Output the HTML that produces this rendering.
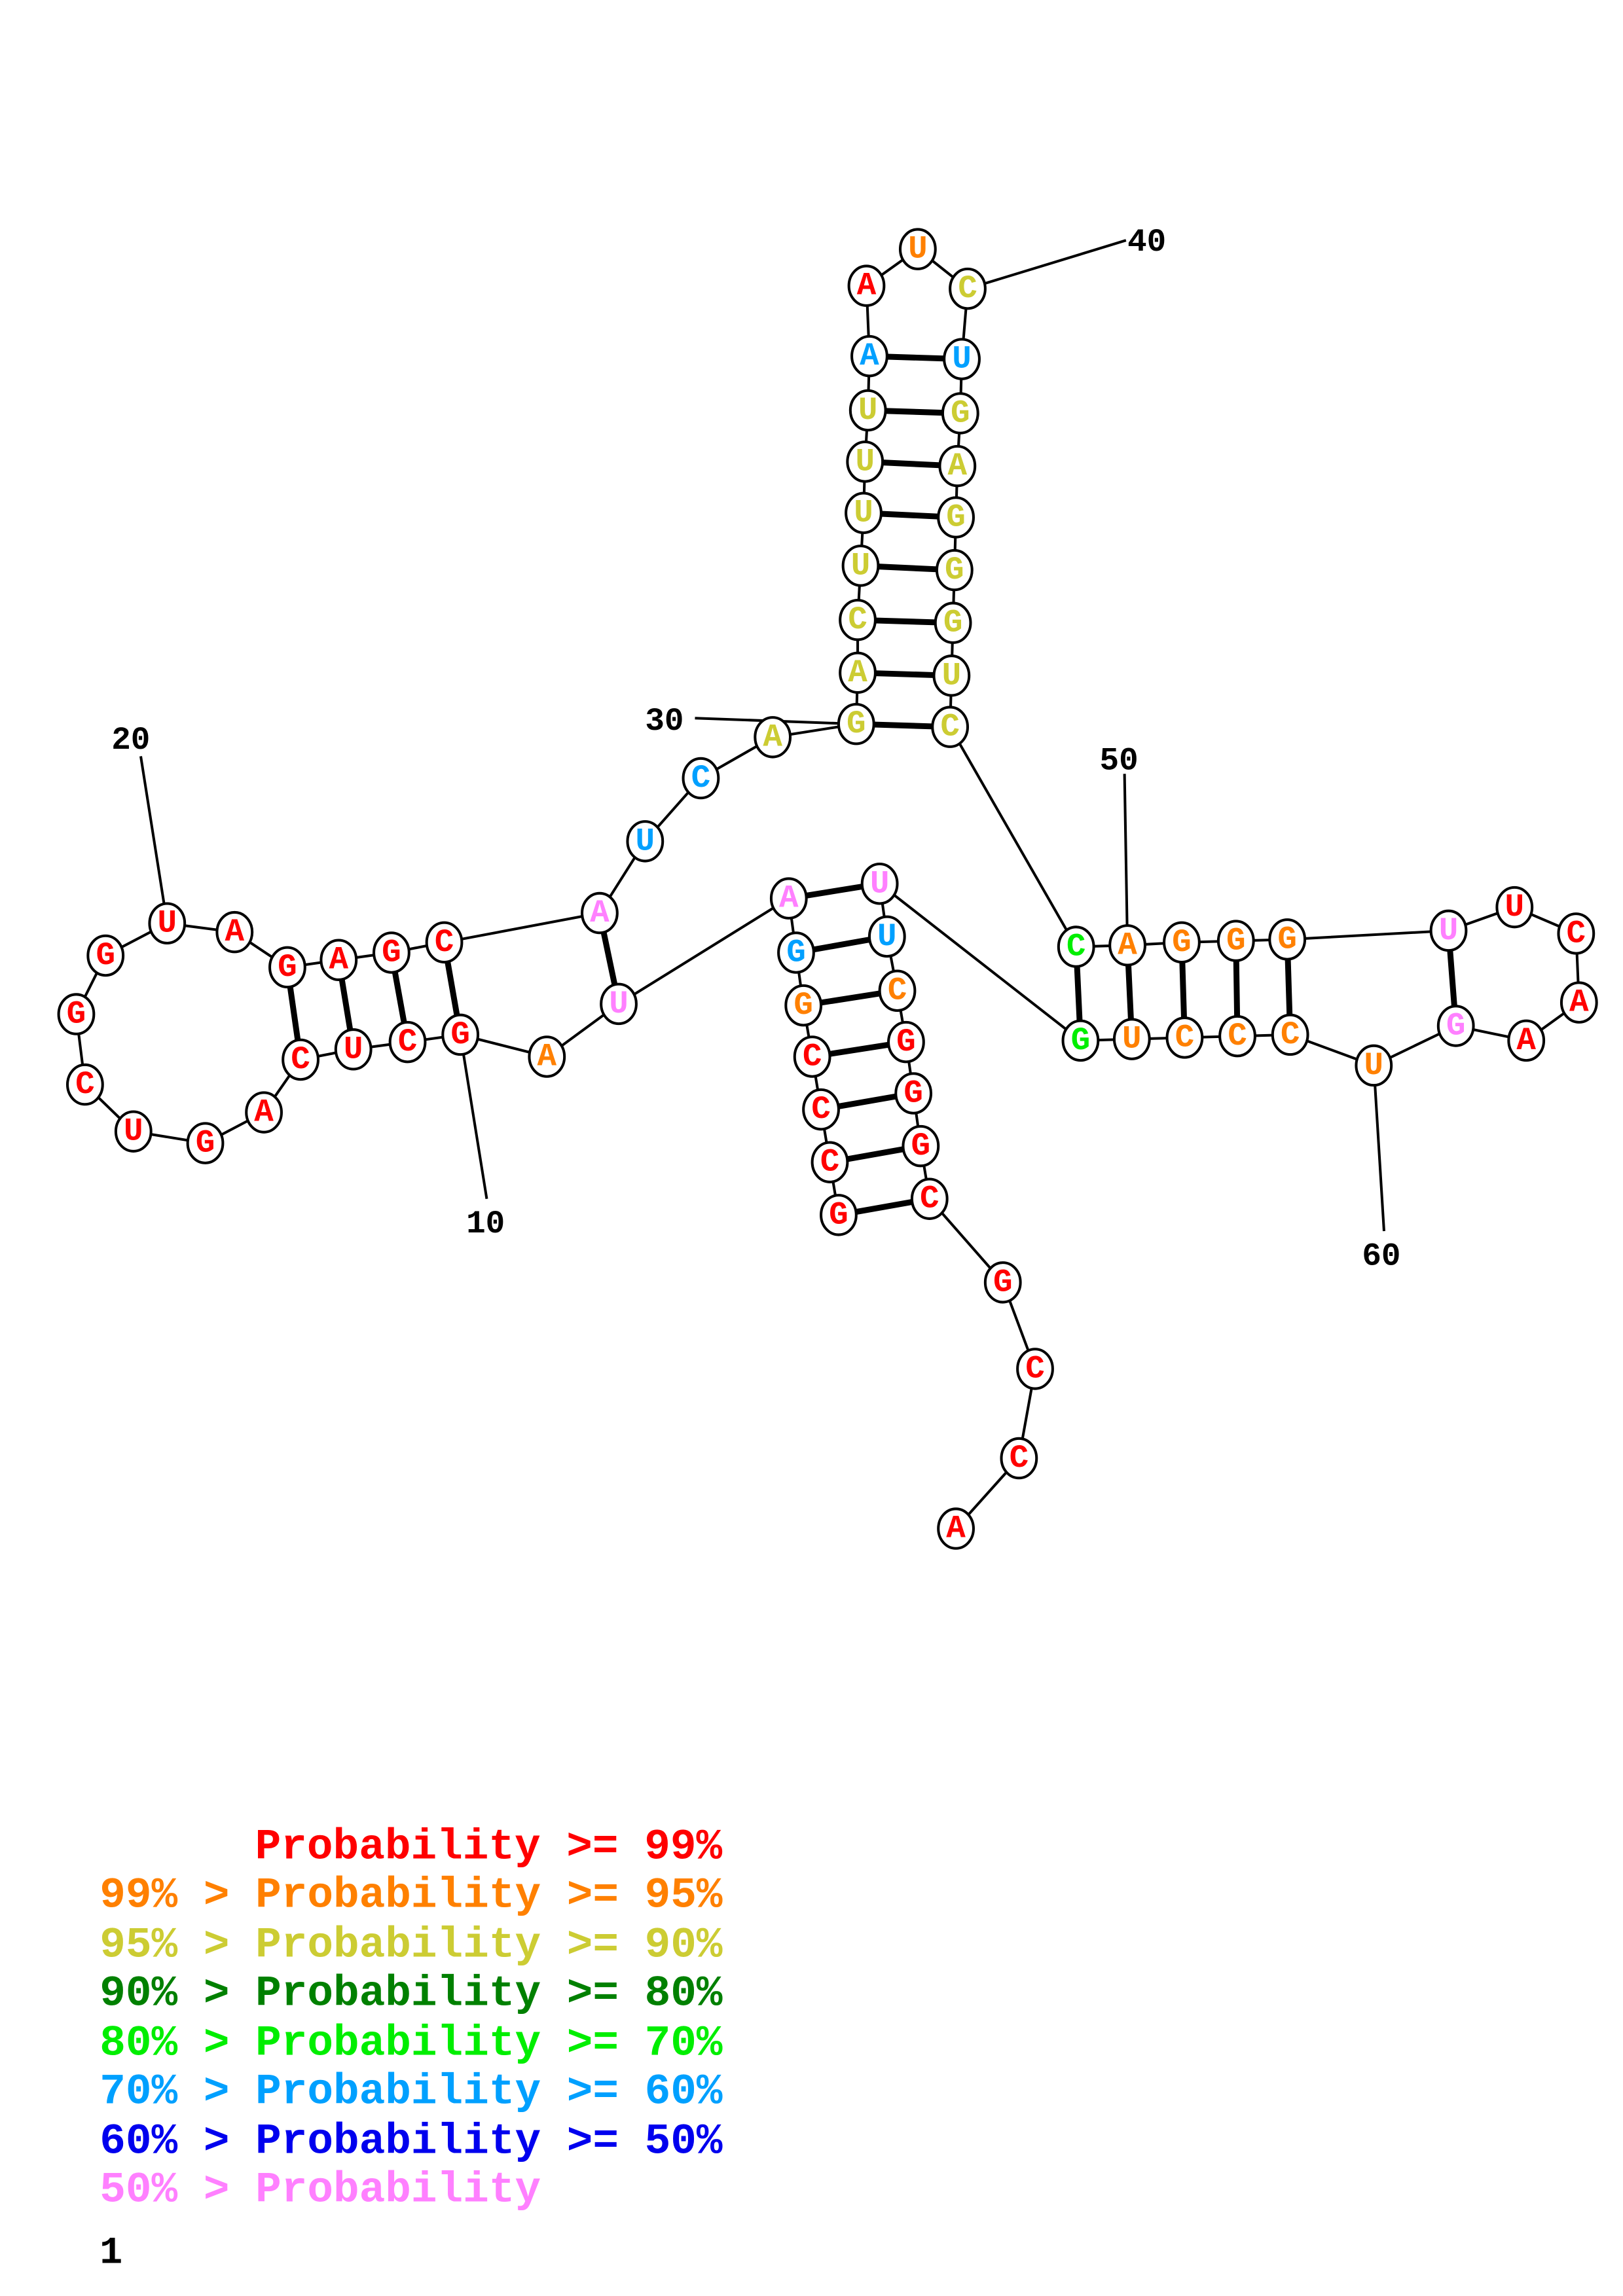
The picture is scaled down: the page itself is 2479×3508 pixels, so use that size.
<!DOCTYPE html>
<html><head><meta charset="utf-8"><style>
html,body{margin:0;padding:0;background:#fff}
svg{display:block}
.n text{font-family:"Liberation Mono",monospace;font-weight:bold;font-size:22px;text-anchor:middle;dominant-baseline:central}
.lab{font-family:"Liberation Mono",monospace;font-weight:bold;font-size:22px;fill:#000}
.leg{font-family:"Liberation Mono",monospace;font-weight:bold;font-size:29.5px}
</style></head><body>
<svg width="2479" height="3508" viewBox="0 0 1107 1566.6" preserveAspectRatio="none" xmlns="http://www.w3.org/2000/svg">
<g stroke="#000" stroke-width="1.8" fill="none">
<polyline points="572,829 566,793 560,757 554,721 548,686 543,650 538,613 422,685 373,721 314,706 278,711 241,716 205,723 180,759 140,780 91,772 58,740 52,692 72,652 114,630 160,636 196,660 231,655 267,650 303,643 409,623 440,574 478,531 527,503 584,494 585,459 585,423 587,386 589,350 590,315 592,280 593,243 591,195 626,170 660,197 656,245 655,282 653,318 652,353 651,389 650,425 649,461 648,496 734,646 769,645 806,643 843,642 878,641 988,635 1033,619 1075,637 1077,684 1041,710 993,700 937,727 880,706 844,707 808,708 772,709 737,710 600,603 605,639 612,676 618,711 623,746 628,782 634,818 684,875 706,934 695,995 652,1043"/>
<line x1="768" y1="164" x2="660" y2="197"/>
<line x1="474" y1="490" x2="584" y2="494"/>
<line x1="96" y1="516" x2="114" y2="630"/>
<line x1="332" y1="818" x2="314" y2="706"/>
<line x1="767" y1="528" x2="769" y2="645"/>
<line x1="944" y1="840" x2="937" y2="727"/>
</g>
<g stroke="#000" stroke-width="4">
<line x1="572" y1="829" x2="634" y2="818"/><line x1="566" y1="793" x2="628" y2="782"/><line x1="560" y1="757" x2="623" y2="746"/><line x1="554" y1="721" x2="618" y2="711"/><line x1="548" y1="686" x2="612" y2="676"/><line x1="543" y1="650" x2="605" y2="639"/><line x1="538" y1="613" x2="600" y2="603"/>
<line x1="422" y1="685" x2="409" y2="623"/><line x1="314" y1="706" x2="303" y2="643"/><line x1="278" y1="711" x2="267" y2="650"/><line x1="241" y1="716" x2="231" y2="655"/><line x1="205" y1="723" x2="196" y2="660"/>
<line x1="584" y1="494" x2="648" y2="496"/><line x1="585" y1="459" x2="649" y2="461"/><line x1="585" y1="423" x2="650" y2="425"/><line x1="587" y1="386" x2="651" y2="389"/><line x1="589" y1="350" x2="652" y2="353"/><line x1="590" y1="315" x2="653" y2="318"/><line x1="592" y1="280" x2="655" y2="282"/><line x1="593" y1="243" x2="656" y2="245"/>
<line x1="734" y1="646" x2="737" y2="710"/><line x1="769" y1="645" x2="772" y2="709"/><line x1="806" y1="643" x2="808" y2="708"/><line x1="843" y1="642" x2="844" y2="707"/><line x1="878" y1="641" x2="880" y2="706"/><line x1="988" y1="635" x2="993" y2="700"/>
</g>
<g class="n" stroke="#000" stroke-width="1.8">
<g transform="translate(572,829)"><ellipse rx="12" ry="13.5" fill="#fff"/><text fill="#f00" stroke="none">G</text></g>
<g transform="translate(566,793)"><ellipse rx="12" ry="13.5" fill="#fff"/><text fill="#f00" stroke="none">C</text></g>
<g transform="translate(560,757)"><ellipse rx="12" ry="13.5" fill="#fff"/><text fill="#f00" stroke="none">C</text></g>
<g transform="translate(554,721)"><ellipse rx="12" ry="13.5" fill="#fff"/><text fill="#f00" stroke="none">C</text></g>
<g transform="translate(548,686)"><ellipse rx="12" ry="13.5" fill="#fff"/><text fill="#ff8000" stroke="none">G</text></g>
<g transform="translate(543,650)"><ellipse rx="12" ry="13.5" fill="#fff"/><text fill="#00a0ff" stroke="none">G</text></g>
<g transform="translate(538,613)"><ellipse rx="12" ry="13.5" fill="#fff"/><text fill="#ff80ff" stroke="none">A</text></g>
<g transform="translate(422,685)"><ellipse rx="12" ry="13.5" fill="#fff"/><text fill="#ff80ff" stroke="none">U</text></g>
<g transform="translate(373,721)"><ellipse rx="12" ry="13.5" fill="#fff"/><text fill="#ff8000" stroke="none">A</text></g>
<g transform="translate(314,706)"><ellipse rx="12" ry="13.5" fill="#fff"/><text fill="#f00" stroke="none">G</text></g>
<g transform="translate(278,711)"><ellipse rx="12" ry="13.5" fill="#fff"/><text fill="#f00" stroke="none">C</text></g>
<g transform="translate(241,716)"><ellipse rx="12" ry="13.5" fill="#fff"/><text fill="#f00" stroke="none">U</text></g>
<g transform="translate(205,723)"><ellipse rx="12" ry="13.5" fill="#fff"/><text fill="#f00" stroke="none">C</text></g>
<g transform="translate(180,759)"><ellipse rx="12" ry="13.5" fill="#fff"/><text fill="#f00" stroke="none">A</text></g>
<g transform="translate(140,780)"><ellipse rx="12" ry="13.5" fill="#fff"/><text fill="#f00" stroke="none">G</text></g>
<g transform="translate(91,772)"><ellipse rx="12" ry="13.5" fill="#fff"/><text fill="#f00" stroke="none">U</text></g>
<g transform="translate(58,740)"><ellipse rx="12" ry="13.5" fill="#fff"/><text fill="#f00" stroke="none">C</text></g>
<g transform="translate(52,692)"><ellipse rx="12" ry="13.5" fill="#fff"/><text fill="#f00" stroke="none">G</text></g>
<g transform="translate(72,652)"><ellipse rx="12" ry="13.5" fill="#fff"/><text fill="#f00" stroke="none">G</text></g>
<g transform="translate(114,630)"><ellipse rx="12" ry="13.5" fill="#fff"/><text fill="#f00" stroke="none">U</text></g>
<g transform="translate(160,636)"><ellipse rx="12" ry="13.5" fill="#fff"/><text fill="#f00" stroke="none">A</text></g>
<g transform="translate(196,660)"><ellipse rx="12" ry="13.5" fill="#fff"/><text fill="#f00" stroke="none">G</text></g>
<g transform="translate(231,655)"><ellipse rx="12" ry="13.5" fill="#fff"/><text fill="#f00" stroke="none">A</text></g>
<g transform="translate(267,650)"><ellipse rx="12" ry="13.5" fill="#fff"/><text fill="#f00" stroke="none">G</text></g>
<g transform="translate(303,643)"><ellipse rx="12" ry="13.5" fill="#fff"/><text fill="#f00" stroke="none">C</text></g>
<g transform="translate(409,623)"><ellipse rx="12" ry="13.5" fill="#fff"/><text fill="#ff80ff" stroke="none">A</text></g>
<g transform="translate(440,574)"><ellipse rx="12" ry="13.5" fill="#fff"/><text fill="#00a0ff" stroke="none">U</text></g>
<g transform="translate(478,531)"><ellipse rx="12" ry="13.5" fill="#fff"/><text fill="#00a0ff" stroke="none">C</text></g>
<g transform="translate(527,503)"><ellipse rx="12" ry="13.5" fill="#fff"/><text fill="#cccc33" stroke="none">A</text></g>
<g transform="translate(584,494)"><ellipse rx="12" ry="13.5" fill="#fff"/><text fill="#cccc33" stroke="none">G</text></g>
<g transform="translate(585,459)"><ellipse rx="12" ry="13.5" fill="#fff"/><text fill="#cccc33" stroke="none">A</text></g>
<g transform="translate(585,423)"><ellipse rx="12" ry="13.5" fill="#fff"/><text fill="#cccc33" stroke="none">C</text></g>
<g transform="translate(587,386)"><ellipse rx="12" ry="13.5" fill="#fff"/><text fill="#cccc33" stroke="none">U</text></g>
<g transform="translate(589,350)"><ellipse rx="12" ry="13.5" fill="#fff"/><text fill="#cccc33" stroke="none">U</text></g>
<g transform="translate(590,315)"><ellipse rx="12" ry="13.5" fill="#fff"/><text fill="#cccc33" stroke="none">U</text></g>
<g transform="translate(592,280)"><ellipse rx="12" ry="13.5" fill="#fff"/><text fill="#cccc33" stroke="none">U</text></g>
<g transform="translate(593,243)"><ellipse rx="12" ry="13.5" fill="#fff"/><text fill="#00a0ff" stroke="none">A</text></g>
<g transform="translate(591,195)"><ellipse rx="12" ry="13.5" fill="#fff"/><text fill="#f00" stroke="none">A</text></g>
<g transform="translate(626,170)"><ellipse rx="12" ry="13.5" fill="#fff"/><text fill="#ff8000" stroke="none">U</text></g>
<g transform="translate(660,197)"><ellipse rx="12" ry="13.5" fill="#fff"/><text fill="#cccc33" stroke="none">C</text></g>
<g transform="translate(656,245)"><ellipse rx="12" ry="13.5" fill="#fff"/><text fill="#00a0ff" stroke="none">U</text></g>
<g transform="translate(655,282)"><ellipse rx="12" ry="13.5" fill="#fff"/><text fill="#cccc33" stroke="none">G</text></g>
<g transform="translate(653,318)"><ellipse rx="12" ry="13.5" fill="#fff"/><text fill="#cccc33" stroke="none">A</text></g>
<g transform="translate(652,353)"><ellipse rx="12" ry="13.5" fill="#fff"/><text fill="#cccc33" stroke="none">G</text></g>
<g transform="translate(651,389)"><ellipse rx="12" ry="13.5" fill="#fff"/><text fill="#cccc33" stroke="none">G</text></g>
<g transform="translate(650,425)"><ellipse rx="12" ry="13.5" fill="#fff"/><text fill="#cccc33" stroke="none">G</text></g>
<g transform="translate(649,461)"><ellipse rx="12" ry="13.5" fill="#fff"/><text fill="#cccc33" stroke="none">U</text></g>
<g transform="translate(648,496)"><ellipse rx="12" ry="13.5" fill="#fff"/><text fill="#cccc33" stroke="none">C</text></g>
<g transform="translate(734,646)"><ellipse rx="12" ry="13.5" fill="#fff"/><text fill="#00ee00" stroke="none">C</text></g>
<g transform="translate(769,645)"><ellipse rx="12" ry="13.5" fill="#fff"/><text fill="#ff8000" stroke="none">A</text></g>
<g transform="translate(806,643)"><ellipse rx="12" ry="13.5" fill="#fff"/><text fill="#ff8000" stroke="none">G</text></g>
<g transform="translate(843,642)"><ellipse rx="12" ry="13.5" fill="#fff"/><text fill="#ff8000" stroke="none">G</text></g>
<g transform="translate(878,641)"><ellipse rx="12" ry="13.5" fill="#fff"/><text fill="#ff8000" stroke="none">G</text></g>
<g transform="translate(988,635)"><ellipse rx="12" ry="13.5" fill="#fff"/><text fill="#ff80ff" stroke="none">U</text></g>
<g transform="translate(1033,619)"><ellipse rx="12" ry="13.5" fill="#fff"/><text fill="#f00" stroke="none">U</text></g>
<g transform="translate(1075,637)"><ellipse rx="12" ry="13.5" fill="#fff"/><text fill="#f00" stroke="none">C</text></g>
<g transform="translate(1077,684)"><ellipse rx="12" ry="13.5" fill="#fff"/><text fill="#f00" stroke="none">A</text></g>
<g transform="translate(1041,710)"><ellipse rx="12" ry="13.5" fill="#fff"/><text fill="#f00" stroke="none">A</text></g>
<g transform="translate(993,700)"><ellipse rx="12" ry="13.5" fill="#fff"/><text fill="#ff80ff" stroke="none">G</text></g>
<g transform="translate(937,727)"><ellipse rx="12" ry="13.5" fill="#fff"/><text fill="#ff8000" stroke="none">U</text></g>
<g transform="translate(880,706)"><ellipse rx="12" ry="13.5" fill="#fff"/><text fill="#ff8000" stroke="none">C</text></g>
<g transform="translate(844,707)"><ellipse rx="12" ry="13.5" fill="#fff"/><text fill="#ff8000" stroke="none">C</text></g>
<g transform="translate(808,708)"><ellipse rx="12" ry="13.5" fill="#fff"/><text fill="#ff8000" stroke="none">C</text></g>
<g transform="translate(772,709)"><ellipse rx="12" ry="13.5" fill="#fff"/><text fill="#ff8000" stroke="none">U</text></g>
<g transform="translate(737,710)"><ellipse rx="12" ry="13.5" fill="#fff"/><text fill="#00ee00" stroke="none">G</text></g>
<g transform="translate(600,603)"><ellipse rx="12" ry="13.5" fill="#fff"/><text fill="#ff80ff" stroke="none">U</text></g>
<g transform="translate(605,639)"><ellipse rx="12" ry="13.5" fill="#fff"/><text fill="#00a0ff" stroke="none">U</text></g>
<g transform="translate(612,676)"><ellipse rx="12" ry="13.5" fill="#fff"/><text fill="#ff8000" stroke="none">C</text></g>
<g transform="translate(618,711)"><ellipse rx="12" ry="13.5" fill="#fff"/><text fill="#f00" stroke="none">G</text></g>
<g transform="translate(623,746)"><ellipse rx="12" ry="13.5" fill="#fff"/><text fill="#f00" stroke="none">G</text></g>
<g transform="translate(628,782)"><ellipse rx="12" ry="13.5" fill="#fff"/><text fill="#f00" stroke="none">G</text></g>
<g transform="translate(634,818)"><ellipse rx="12" ry="13.5" fill="#fff"/><text fill="#f00" stroke="none">C</text></g>
<g transform="translate(684,875)"><ellipse rx="12" ry="13.5" fill="#fff"/><text fill="#f00" stroke="none">G</text></g>
<g transform="translate(706,934)"><ellipse rx="12" ry="13.5" fill="#fff"/><text fill="#f00" stroke="none">C</text></g>
<g transform="translate(695,995)"><ellipse rx="12" ry="13.5" fill="#fff"/><text fill="#f00" stroke="none">C</text></g>
<g transform="translate(652,1043)"><ellipse rx="12" ry="13.5" fill="#fff"/><text fill="#f00" stroke="none">A</text></g>
</g>
<text class="lab" x="769" y="171">40</text>
<text class="lab" x="440" y="498">30</text>
<text class="lab" x="76" y="511">20</text>
<text class="lab" x="318" y="841">10</text>
<text class="lab" x="750" y="525">50</text>
<text class="lab" x="929" y="863">60</text>
<text class="leg" x="174" y="1268" fill="#f00">Probability &gt;= 99%</text>
<text class="leg" x="68" y="1301" fill="#ff8000">99% &gt; Probability &gt;= 95%</text>
<text class="leg" x="68" y="1335" fill="#cccc33">95% &gt; Probability &gt;= 90%</text>
<text class="leg" x="68" y="1368" fill="#008000">90% &gt; Probability &gt;= 80%</text>
<text class="leg" x="68" y="1402" fill="#00ee00">80% &gt; Probability &gt;= 70%</text>
<text class="leg" x="68" y="1435" fill="#00a0ff">70% &gt; Probability &gt;= 60%</text>
<text class="leg" x="68" y="1469" fill="#0000ee">60% &gt; Probability &gt;= 50%</text>
<text class="leg" x="68" y="1502" fill="#ff80ff">50% &gt; Probability</text>
<text class="lab" x="68" y="1544" style="font-size:26px">1</text>
</svg>
</body></html>
